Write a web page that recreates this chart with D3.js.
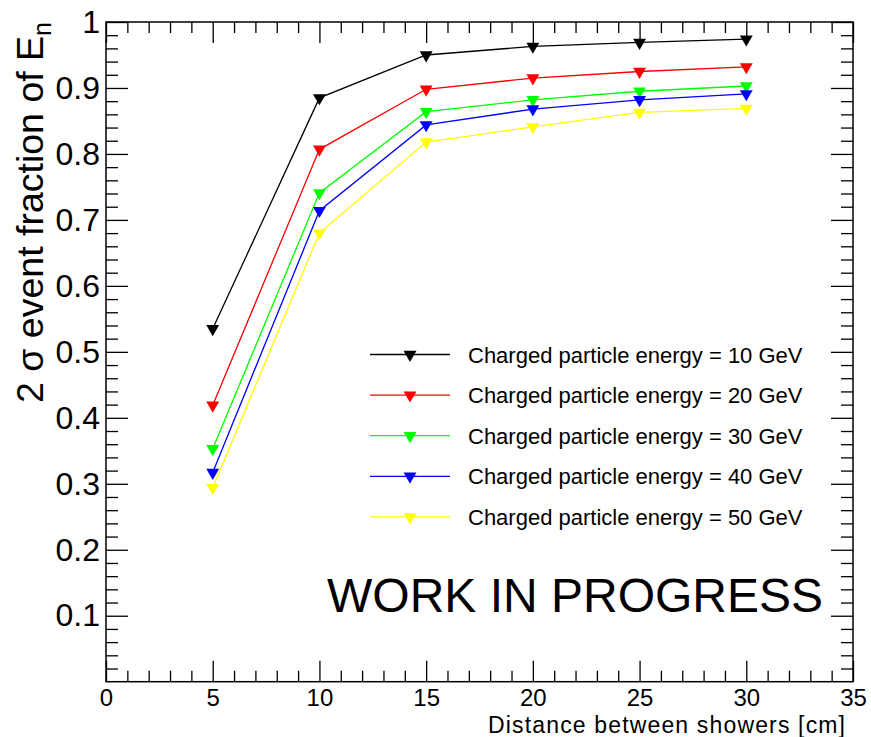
<!DOCTYPE html>
<html>
<head>
<meta charset="utf-8">
<script src="https://cdn.jsdelivr.net/npm/d3@7"></script>
<style>
  body { margin: 0; background: #fff; }
  text { font-family: "Liberation Sans", Arial, Helvetica, sans-serif; }
</style>
</head>
<body>
<script>
// data
var distances = [5, 10, 15, 20, 25, 30];
var energies = ["10", "20", "30", "40", "50"];
var colors = ["#000000", "#ff0000", "#00ff00", "#0000ff", "#ffff00"];
var frac10 = [0.535, 0.885, 0.950, 0.963, 0.969, 0.974];
var frac20 = [0.419, 0.807, 0.898, 0.915, 0.925, 0.932];
var frac30 = [0.353, 0.741, 0.864, 0.882, 0.895, 0.903];
var frac40 = [0.317, 0.714, 0.844, 0.868, 0.882, 0.891];
var frac50 = [0.294, 0.680, 0.818, 0.841, 0.863, 0.869];
var xMajor = [0, 5, 10, 15, 20, 25, 30, 35];
var yMajor = [0.1, 0.2, 0.3, 0.4, 0.5, 0.6, 0.7, 0.8, 0.9, 1];

var series = [frac10, frac20, frac30, frac40, frac50];

// canvas
var w = 871, h = 737;
var m = {left: 106, top: 22, right: 18, bottom: 55.3};
var pw = w - m.left - m.right, ph = h - m.top - m.bottom;

var svg = d3.select("body").append("svg")
    .attr("width", w)
    .attr("height", h);

var g = svg.append("g").attr("transform", "translate(" + m.left + "," + m.top + ")");

var x = d3.scaleLinear().domain([0, 35]).range([0, pw]);
var y = d3.scaleLinear().domain([0, 1]).range([ph, 0]);

var xMinor = d3.range(0, 36, 1).filter(function(d){ return d % 5 != 0; });
var yMinor = d3.range(0, 51, 1).map(function(d){ return d / 50; })
    .filter(function(d, i){ return i % 5 != 0; });

// ticks on all four sides, pointing inward (ROOT style)
function tickGroup(axis, tr) {
  var a = g.append("g").attr("transform", tr).call(axis);
  a.select(".domain").remove();
  a.selectAll("line").attr("stroke", "#000").attr("stroke-width", 1.3);
  return a;
}

var bx = tickGroup(d3.axisBottom(x).tickValues(xMajor).tickSizeInner(-21).tickSizeOuter(0).tickPadding(7), "translate(0," + ph + ")");
bx.selectAll("text").attr("font-size", 24).attr("fill", "#000")
  .style("font-family", "Liberation Sans, Arial, sans-serif");
tickGroup(d3.axisBottom(x).tickValues(xMinor).tickSizeInner(-11).tickSizeOuter(0).tickFormat(""), "translate(0," + ph + ")");
tickGroup(d3.axisTop(x).tickValues(xMajor).tickSizeInner(-21).tickSizeOuter(0).tickFormat(""), "translate(0,0)");
tickGroup(d3.axisTop(x).tickValues(xMinor).tickSizeInner(-11).tickSizeOuter(0).tickFormat(""), "translate(0,0)");

var ly = tickGroup(d3.axisLeft(y).tickValues(yMajor).tickSizeInner(-22).tickSizeOuter(0).tickPadding(6)
    .tickFormat(function(d){ return d == 1 ? "1" : d3.format(".1f")(d); }), "translate(0,0)");
ly.selectAll("text").attr("font-size", 32).attr("fill", "#000")
  .style("font-family", "Liberation Sans, Arial, sans-serif");
tickGroup(d3.axisLeft(y).tickValues(yMinor).tickSizeInner(-12).tickSizeOuter(0).tickFormat(""), "translate(0,0)");
tickGroup(d3.axisRight(y).tickValues(yMajor).tickSizeInner(-22).tickSizeOuter(0).tickFormat(""), "translate(" + pw + ",0)");
tickGroup(d3.axisRight(y).tickValues(yMinor).tickSizeInner(-12).tickSizeOuter(0).tickFormat(""), "translate(" + pw + ",0)");

// frame
g.append("rect")
  .attr("width", pw).attr("height", ph)
  .attr("fill", "none").attr("stroke", "#000").attr("stroke-width", 1.5);

// curves
var line = d3.line()
  .x(function(d, i){ return x(distances[i]); })
  .y(function(d){ return y(d); });

var tri = d3.symbol().type(d3.symbolTriangle).size(72);

series.forEach(function(s, k) {
  g.append("path")
    .datum(s)
    .attr("d", line)
    .attr("fill", "none")
    .attr("stroke", colors[k])
    .attr("stroke-width", 1.3);
  g.selectAll(".m" + k)
    .data(s)
    .enter().append("path")
    .attr("class", "m" + k)
    .attr("d", tri)
    .attr("fill", colors[k])
    .attr("transform", function(d, i){
      return "translate(" + x(distances[i]) + "," + y(d) + ") rotate(180)";
    });
});

// legend
var leg = svg.append("g");
energies.forEach(function(e, k) {
  var ry = 354.5 + k * 40.6;
  leg.append("line")
    .attr("x1", 370).attr("x2", 450).attr("y1", ry).attr("y2", ry)
    .attr("stroke", colors[k]).attr("stroke-width", 1.3);
  leg.append("path")
    .attr("d", tri)
    .attr("fill", colors[k])
    .attr("transform", "translate(410," + ry + ") rotate(180)");
  leg.append("text")
    .attr("x", 468).attr("y", ry + 8)
    .attr("font-size", 22)
    .attr("fill", "#000")
    .text("Charged particle energy = " + e + " GeV");
});

// labels
svg.append("text")
  .attr("x", 327).attr("y", 611.5)
  .attr("font-size", 48)
  .attr("fill", "#000")
  .text("WORK IN PROGRESS");

svg.append("text")
  .attr("x", 488).attr("y", 733)
  .attr("font-size", 23)
  .attr("textLength", 357)
  .attr("lengthAdjust", "spacing")
  .attr("fill", "#000")
  .text("Distance between showers [cm]");

var yt = svg.append("text")
  .attr("transform", "translate(43,22) rotate(-90)")
  .attr("text-anchor", "end")
  .attr("font-size", 37.5)
  .attr("fill", "#000");
yt.append("tspan").text("2 σ event fraction of E");
yt.append("tspan").attr("font-size", 25).attr("dy", 8).text("n");
</script>
</body>
</html>
